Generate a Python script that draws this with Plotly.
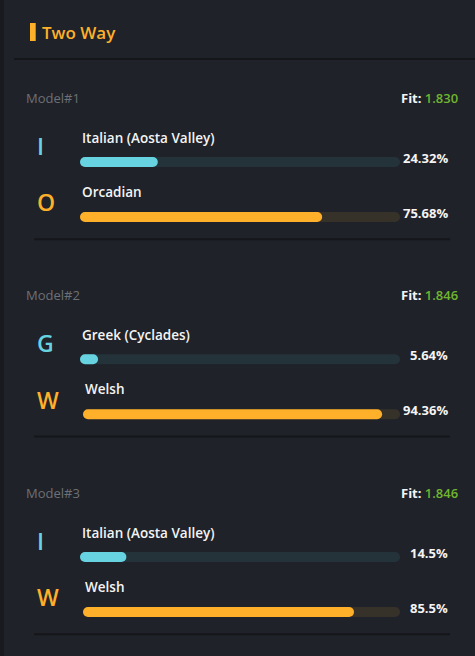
import plotly.graph_objects as go

# ---------------- data ----------------
models = ["Model#1", "Model#2", "Model#3"]
fits = [1.830, 1.846, 1.846]
source1 = ["Italian (Aosta Valley)", "Greek (Cyclades)", "Italian (Aosta Valley)"]
share1 = [24.32, 5.64, 14.5]
source2 = ["Orcadian", "Welsh", "Welsh"]
share2 = [75.68, 94.36, 85.5]
title = "Two Way"

# ---------------- style ----------------
W, H = 475, 656
BG = "#1f2229"
CYAN = "#67d3e1"
CYAN_TRACK = "#243339"
ORANGE = "#feb02a"
ORANGE_TRACK = "#36322a"
GREEN = "#6fb52f"
GRAY = "#6d7074"
WHITE = "#f4f4f4"
SEP = "#14161a"
FONT = "Open Sans"

# layout positions (px)
model_y0 = [97.7, 295.0, 492.7]
off = dict(text1=40, bar1=64.3, pct1=60.3, let1=48.3,
           text2=94.2, bar2=119.3, pct2=115.3, let2=104.6, sep=141.6)
bar_left = [[80, 80], [80, 83], [80, 83]]
bar_right = 400
BAR_H = 10

fig = go.Figure()

axis_for = {80: ("x", "y"), 83: ("x2", "y2")}


def add_bar(yc, value, color, axes):
    xa, ya = axes
    fig.add_trace(go.Bar(
        orientation="h", y=[yc], x=[value], base=[0],
        width=BAR_H, marker=dict(color=color, line=dict(width=0)),
        xaxis=xa, yaxis=ya, hoverinfo="skip", showlegend=False))


annotations = []


def txt(x, y, text, size, color, weight=600, anchor="left"):
    annotations.append(dict(
        x=x / W, xref="paper", y=y, yref="y", text=text, showarrow=False,
        xanchor=anchor, yanchor="middle",
        font=dict(family=FONT, size=size, color=color, weight=weight)))


shapes = []
for i, m in enumerate(models):
    y0 = model_y0[i]
    txt(24, y0, m, 13, GRAY, 500)
    txt(460, y0, f"<b>Fit:</b> <span style='color:{GREEN}'>{fits[i]:.3f}</span>",
        13, WHITE, 600, "right")
    rows = [(source1[i], share1[i], CYAN, CYAN_TRACK, "1"),
            (source2[i], share2[i], ORANGE, ORANGE_TRACK, "2")]
    for j, (name, val, col, trk, k) in enumerate(rows):
        left = bar_left[i][j]
        ax = axis_for[left]
        add_bar(y0 + off["bar" + k], 100, trk, ax)
        add_bar(y0 + off["bar" + k], val, col, ax)
        txt(left, y0 + off["text" + k], name, 13.5, WHITE, 600)
        txt(450, y0 + off["pct" + k], f"{val:g}%", 13, WHITE, 700, "right")
        txt(35, y0 + off["let" + k], name[0], 23, col, 600)
    ys = y0 + off["sep"]
    shapes.append(dict(type="line", xref="paper", yref="y", x0=34 / W, x1=450 / W,
                       y0=ys, y1=ys, line=dict(color=SEP, width=2)))

# header
txt(40, 32.5, title, 17, ORANGE, 600)
shapes.append(dict(type="rect", xref="paper", yref="y", x0=30 / W, x1=35.7 / W,
                   y0=23, y1=41, fillcolor=ORANGE, line=dict(width=0)))
shapes.append(dict(type="line", xref="paper", yref="y", x0=14 / W, x1=1,
                   y0=59, y1=59, line=dict(color=SEP, width=2)))
# left panel edge
shapes.append(dict(type="rect", xref="paper", yref="paper", x0=0, x1=4 / W,
                   y0=0, y1=1, fillcolor="#181a1f", line=dict(width=0), layer="below"))

hidden = dict(visible=False, showgrid=False, zeroline=False, fixedrange=True)
fig.update_layout(
    width=W, height=H, autosize=False,
    margin=dict(l=0, r=0, t=0, b=0),
    paper_bgcolor=BG, plot_bgcolor="rgba(0,0,0,0)",
    barmode="overlay", barcornerradius=5,
    xaxis=dict(domain=[80 / W, bar_right / W], range=[0, 100], anchor="y", **hidden),
    xaxis2=dict(domain=[83 / W, bar_right / W], range=[0, 100], anchor="y2", **hidden),
    yaxis=dict(domain=[0, 1], range=[H, 0], anchor="x", **hidden),
    yaxis2=dict(domain=[0, 1], range=[H, 0], anchor="x2", **hidden),
    annotations=annotations, shapes=shapes,
    showlegend=False,
)

fig.write_html("out.html", config={"displayModeBar": False},
               post_script="document.body.style.margin='0';")
